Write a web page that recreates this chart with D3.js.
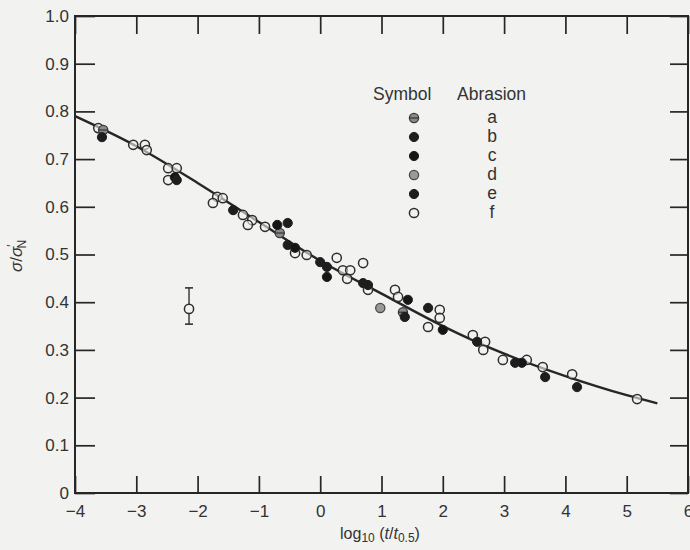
<!DOCTYPE html>
<html>
<head>
<meta charset="utf-8">
<script src="https://cdn.jsdelivr.net/npm/d3@7"></script>
<style>
  html, body { margin: 0; padding: 0; background: #f2f2f0; }
  svg { display: block; }
  text { font-family: "Liberation Sans", Arial, sans-serif; fill: #333; }
</style>
</head>
<body>
<svg id="chart" width="690" height="550"></svg>
<script>
// ---------- data ----------
const xTicks = [-4, -3, -2, -1, 0, 1, 2, 3, 4, 5, 6];
const yTicks = [0, 0.1, 0.2, 0.3, 0.4, 0.5, 0.6, 0.7, 0.8, 0.9, 1.0];

// fitted curve
const curveX = [-4, -3, -2, -1, 0, 1, 2, 3, 4, 5, 5.5];
const curveY = [0.790, 0.727, 0.650, 0.568, 0.487, 0.418, 0.350, 0.292, 0.245, 0.205, 0.188];

// abrasion series [log10(t/t0.5), sigma/sigmaN]
const seriesA = [[-3.54, 0.761], [-0.66, 0.545], [1.35, 0.379]];
const seriesB = [[-3.56, 0.746], [-1.42, 0.593], [-0.53, 0.520], [0.11, 0.474], [0.78, 0.436], [1.38, 0.369], [2.56, 0.317], [3.67, 0.243]];
const seriesC = [[-2.37, 0.662], [-0.70, 0.562], [-0.41, 0.514], [0.11, 0.453], [1.43, 0.405], [2.00, 0.342], [3.29, 0.273]];
const seriesD = [[0.98, 0.388]];
const seriesE = [[-2.34, 0.656], [-0.53, 0.566], [0.00, 0.484], [0.70, 0.440], [1.76, 0.388], [3.18, 0.273], [4.19, 0.222]];
const seriesF = [[-3.62, 0.765], [-3.05, 0.730], [-2.86, 0.730], [-2.83, 0.719], [-2.48, 0.681], [-2.48, 0.656],
  [-2.34, 0.681], [-1.68, 0.621], [-1.59, 0.618], [-1.75, 0.608], [-1.26, 0.583], [-1.11, 0.572], [-1.18, 0.562],
  [-0.90, 0.558], [-0.41, 0.503], [-0.22, 0.499], [0.27, 0.493], [0.37, 0.467], [0.49, 0.467], [0.44, 0.449],
  [0.70, 0.482], [0.78, 0.426], [1.22, 0.426], [1.27, 0.411], [1.95, 0.384], [1.95, 0.367], [1.76, 0.348],
  [2.49, 0.331], [2.69, 0.317], [2.66, 0.300], [2.98, 0.279], [3.37, 0.279], [3.63, 0.264], [4.11, 0.249], [5.17, 0.197]];

// representative error bar
const errX = [-2.14];
const errY = [0.386];
const errLo = [0.354];
const errHi = [0.430];

const legendKeys = ["a", "b", "c", "d", "e", "f"];

// ---------- drawing ----------
const svg = d3.select("#chart");
const x = d3.scaleLinear().domain([-4, 6]).range([75, 688]);
const y = d3.scaleLinear().domain([0, 1]).range([493, 16]);

const ink = "#262626";

// axes with inward ticks
const fmtX = d => (d < 0 ? "\u2212" + Math.abs(d) : String(d));
const fmtY = d => (d === 0 ? "0" : d3.format(".1f")(d));

const gB = svg.append("g").attr("transform", `translate(0,${y(0)})`)
  .call(d3.axisBottom(x).tickValues(xTicks).tickSize(-17).tickPadding(12).tickFormat(fmtX));
const gT = svg.append("g").attr("transform", `translate(0,${y(1)})`)
  .call(d3.axisTop(x).tickValues(xTicks).tickSize(-18).tickFormat(""));
const gL = svg.append("g").attr("transform", `translate(${x(-4)},0)`)
  .call(d3.axisLeft(y).tickValues(yTicks).tickSize(-20).tickPadding(6).tickFormat(fmtY));
const gR = svg.append("g").attr("transform", `translate(${x(6)},0)`)
  .call(d3.axisRight(y).tickValues(yTicks).tickSize(-18).tickFormat(""));

[gB, gT, gL, gR].forEach(g => {
  g.select(".domain").remove();
  g.selectAll(".tick line").attr("stroke", ink).attr("stroke-width", 1.7);
  g.selectAll(".tick text").style("font-size", "17px").attr("fill", "#333");
});

// frame
svg.append("rect")
  .attr("x", x(-4)).attr("y", y(1))
  .attr("width", x(6) - x(-4)).attr("height", y(0) - y(1))
  .attr("fill", "none").attr("stroke", ink).attr("stroke-width", 2);

// fitted curve
const line = d3.line().x(d => x(d[0])).y(d => y(d[1])).curve(d3.curveMonotoneX);
svg.append("path")
  .datum(curveX.map((v, i) => [v, curveY[i]]))
  .attr("d", line)
  .attr("fill", "none").attr("stroke", ink).attr("stroke-width", 2.4);

// symbol drawing
const R = 4.6;
function drawSym(g, key, cx, cy) {
  if (key === "f") {
    g.append("circle").attr("cx", cx).attr("cy", cy).attr("r", R)
      .attr("fill", "#f2f2f0").attr("fill-opacity", 0.6).attr("stroke", "#2e2e2e").attr("stroke-width", 1.5);
  } else if (key === "a") {
    g.append("circle").attr("cx", cx).attr("cy", cy).attr("r", R)
      .attr("fill", "#8a8a8a").attr("stroke", "#3a3a3a").attr("stroke-width", 1.3);
    g.append("line").attr("x1", cx - R).attr("x2", cx + R).attr("y1", cy).attr("y2", cy)
      .attr("stroke", "#333").attr("stroke-width", 1.2);
  } else if (key === "d") {
    g.append("circle").attr("cx", cx).attr("cy", cy).attr("r", R)
      .attr("fill", "#9a9a9a").attr("stroke", "#4a4a4a").attr("stroke-width", 1.3);
  } else {
    g.append("circle").attr("cx", cx).attr("cy", cy).attr("r", R)
      .attr("fill", key === "c" ? "#161616" : "#1e1e1e").attr("stroke", "#1e1e1e").attr("stroke-width", 1);
  }
}

const allSeries = { a: seriesA, b: seriesB, c: seriesC, d: seriesD, e: seriesE, f: seriesF };
const gPts = svg.append("g");
["f", "a", "d", "b", "c", "e"].forEach(k => {
  allSeries[k].forEach(p => drawSym(gPts, k, x(p[0]), y(p[1])));
});

// error bar
const gErr = svg.append("g");
errX.forEach((ex, i) => {
  const cx = x(ex);
  gErr.append("line").attr("x1", cx).attr("x2", cx).attr("y1", y(errHi[i])).attr("y2", y(errY[i]) - R)
    .attr("stroke", "#333").attr("stroke-width", 1.4);
  gErr.append("line").attr("x1", cx).attr("x2", cx).attr("y1", y(errY[i]) + R).attr("y2", y(errLo[i]))
    .attr("stroke", "#333").attr("stroke-width", 1.4);
  [errHi[i], errLo[i]].forEach(v => gErr.append("line")
    .attr("x1", cx - 4).attr("x2", cx + 4).attr("y1", y(v)).attr("y2", y(v))
    .attr("stroke", "#333").attr("stroke-width", 1.6));
  drawSym(gErr, "f", cx, y(errY[i]));
});

// legend
const gLeg = svg.append("g");
gLeg.append("text").attr("x", 373).attr("y", 100).style("font-size", "17.5px").text("Symbol");
gLeg.append("text").attr("x", 457).attr("y", 100).style("font-size", "17.5px").text("Abrasion");
legendKeys.forEach((k, i) => {
  const yy = 118 + i * 19;
  drawSym(gLeg, k, 414, yy);
  gLeg.append("text").attr("x", 492).attr("y", yy + 5).attr("text-anchor", "middle")
    .style("font-size", "17.5px").text(k);
});

// axis titles
svg.append("text").attr("x", 380).attr("y", 539).attr("text-anchor", "middle").style("font-size", "16px")
  .html('log<tspan font-size="12px" dy="3">10</tspan><tspan dy="-3"> (</tspan><tspan font-style="italic">t</tspan>/<tspan font-style="italic">t</tspan><tspan font-size="12px" dy="3">0.5</tspan><tspan dy="-3">)</tspan>');

svg.append("text").attr("transform", "translate(22,256) rotate(-90)").attr("text-anchor", "middle").style("font-size", "17px")
  .html('<tspan font-style="italic">σ</tspan>/<tspan font-style="italic">σ</tspan><tspan font-size="12px" dy="-6">′</tspan><tspan font-size="12px" dy="10" dx="-4">N</tspan>');
</script>
</body>
</html>
